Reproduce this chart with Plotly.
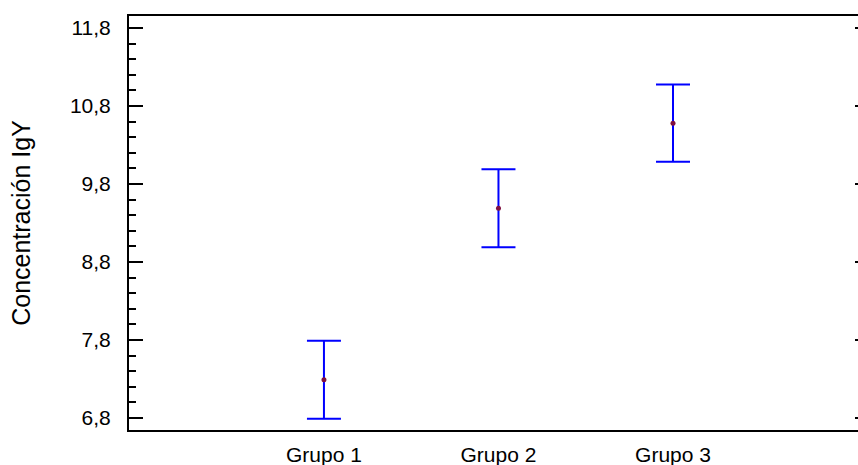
import plotly.graph_objects as go

categories = ["Grupo 1", "Grupo 2", "Grupo 3"]
means = [7.29, 9.49, 10.58]
half_width = [0.50, 0.50, 0.495]
y_tick_start = 6.8
y_tick_step = 1.0
y_minor_step = 0.2

FONT = "Liberation Sans, Arial, sans-serif"

fig = go.Figure()
fig.add_trace(go.Scatter(
    x=[0, 1, 2], y=means, mode="markers",
    marker=dict(color="#80103F", size=5),
    error_y=dict(type="data", array=half_width, color="#0000FF",
                 thickness=2, width=17),
    showlegend=False, hoverinfo="skip",
))
# invisible trace to bind the right-side tick axis
fig.add_trace(go.Scatter(x=[0], y=[means[0]], yaxis="y2", mode="markers",
                         marker=dict(opacity=0), showlegend=False, hoverinfo="skip"))

yr = [6.646, 11.954]

fig.update_layout(
    width=858, height=465,
    margin=dict(l=129, r=0, t=16, b=35),
    separators=",.",
    paper_bgcolor="white", plot_bgcolor="white",
    font=dict(family=FONT, color="black", size=21),
    xaxis=dict(
        range=[-1.117, 3.06], tickmode="array", tickvals=[0, 1, 2],
        ticktext=categories, showgrid=False, zeroline=False,
        showline=True, linecolor="black", linewidth=2, mirror=True,
        ticks="", tickfont=dict(size=21), ticklabelstandoff=5,
    ),
    yaxis=dict(
        range=yr, tickmode="linear", tick0=y_tick_start, dtick=y_tick_step,
        tickformat=".1f",
        showgrid=False, zeroline=False, showline=True, linecolor="black",
        linewidth=2, ticks="inside", ticklen=14, tickwidth=2, tickcolor="black",
        minor=dict(ticks="inside", ticklen=7, tickwidth=2, tickcolor="black",
                   dtick=y_minor_step, tick0=y_tick_start, showgrid=False),
        tickfont=dict(size=21), ticklabelstandoff=12,
        title=dict(text="Concentración IgY", font=dict(size=25), standoff=32),
    ),
    yaxis2=dict(
        range=yr, overlaying="y", side="right", tickmode="linear",
        tick0=y_tick_start, dtick=y_tick_step,
        showticklabels=False, showgrid=False, zeroline=False,
        showline=False, ticks="inside", ticklen=3, tickwidth=2, tickcolor="black",
    ),
)
fig.write_html("out.html", config={"displayModeBar": False},
               post_script="document.body.style.margin='0';document.body.style.overflow='hidden';")
